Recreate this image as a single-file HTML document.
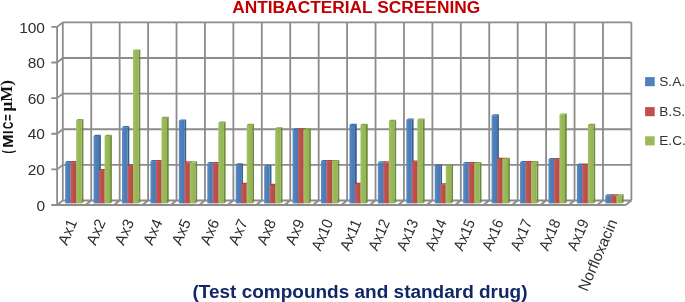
<!DOCTYPE html>
<html><head><meta charset="utf-8">
<style>
html,body{margin:0;padding:0;background:#fff;}
body{width:685px;height:302px;overflow:hidden;position:relative;}
svg{position:absolute;left:0;top:0;filter:blur(0.3px);}
text{font-family:"Liberation Sans",sans-serif;}
.yl{font-size:15.5px;fill:#2e2e2e;}
.xl{font-size:15.3px;fill:#2e2e2e;}
.lg{font-size:13.6px;fill:#333;}
.title{font-size:16px;font-weight:bold;fill:#C00000;}
.xt{font-size:18px;font-weight:bold;fill:#112768;}
.yt{font-size:14.5px;font-weight:bold;fill:#111;}
.yts{font-family:"Liberation Serif",serif;font-size:17px;font-weight:bold;fill:#111;}
</style></head><body>
<svg width="685" height="302" viewBox="0 0 685 302">
<text class="title" x="232.2" y="12.6" textLength="248" lengthAdjust="spacingAndGlyphs">ANTIBACTERIAL SCREENING</text>
<path d="M62.8 200.5H631.4M62.8 164.88H631.4M62.8 129.26H631.4M62.8 93.64H631.4M62.8 58.02H631.4M62.8 22.4H631.4M62.8 22.4V200.5M91.23 22.4V200.5M119.66 22.4V200.5M148.09 22.4V200.5M176.52 22.4V200.5M204.95 22.4V200.5M233.38 22.4V200.5M261.81 22.4V200.5M290.24 22.4V200.5M318.67 22.4V200.5M347.1 22.4V200.5M375.53 22.4V200.5M403.96 22.4V200.5M432.39 22.4V200.5M460.82 22.4V200.5M489.25 22.4V200.5M517.68 22.4V200.5M546.11 22.4V200.5M574.54 22.4V200.5M602.97 22.4V200.5M631.4 22.4V200.5M57.1 26.9V205M57.1 205L62.8 200.5M51.3 205H57.1M57.1 169.38L62.8 164.88M51.3 169.38H57.1M57.1 133.76L62.8 129.26M51.3 133.76H57.1M57.1 98.14L62.8 93.64M51.3 98.14H57.1M57.1 62.52L62.8 58.02M51.3 62.52H57.1M57.1 26.9L62.8 22.4M51.3 26.9H57.1M85.53 205L91.23 200.5M113.96 205L119.66 200.5M142.39 205L148.09 200.5M170.82 205L176.52 200.5M199.25 205L204.95 200.5M227.68 205L233.38 200.5M256.11 205L261.81 200.5M284.54 205L290.24 200.5M312.97 205L318.67 200.5M341.4 205L347.1 200.5M369.83 205L375.53 200.5M398.26 205L403.96 200.5M426.69 205L432.39 200.5M455.12 205L460.82 200.5M483.55 205L489.25 200.5M511.98 205L517.68 200.5M540.41 205L546.11 200.5M568.84 205L574.54 200.5M597.27 205L602.97 200.5M625.7 205L631.4 200.5M57.1 205H625.7" fill="none" stroke="#8c8c8c" stroke-width="1.8"/>
<defs><linearGradient id="g0" x1="0" x2="1" y1="0" y2="0"><stop offset="0" stop-color="#5E8DC6"/><stop offset="0.35" stop-color="#4F81BD"/><stop offset="1" stop-color="#4878B2"/></linearGradient><linearGradient id="g1" x1="0" x2="1" y1="0" y2="0"><stop offset="0" stop-color="#C95F5C"/><stop offset="0.35" stop-color="#C0504D"/><stop offset="1" stop-color="#B44B48"/></linearGradient><linearGradient id="g2" x1="0" x2="1" y1="0" y2="0"><stop offset="0" stop-color="#A5C268"/><stop offset="0.35" stop-color="#9BBB59"/><stop offset="1" stop-color="#92B153"/></linearGradient></defs>
<path d="M70.65 162.17L72.45 160.97V202.2L70.65 203.4Z" fill="#385F8E"/>
<rect x="65.15" y="162.17" width="5.5" height="41.23" fill="url(#g0)"/>
<path d="M65.15 162.17L66.95 160.97H72.45L70.65 162.17Z" fill="#3E6AA3"/>
<path d="M76.15 162.17L77.95 160.97V202.2L76.15 203.4Z" fill="#8E3B38"/>
<rect x="70.65" y="162.17" width="5.5" height="41.23" fill="url(#g1)"/>
<path d="M70.65 162.17L72.45 160.97H77.95L76.15 162.17Z" fill="#A64340"/>
<path d="M81.65 120.14L83.45 118.94V202.2L81.65 203.4Z" fill="#6F8B3B"/>
<rect x="76.15" y="120.14" width="5.5" height="83.26" fill="url(#g2)"/>
<path d="M76.15 120.14L77.95 118.94H83.45L81.65 120.14Z" fill="#84A248"/>
<path d="M99.08 135.99L100.88 134.79V202.2L99.08 203.4Z" fill="#385F8E"/>
<rect x="93.58" y="135.99" width="5.5" height="67.41" fill="url(#g0)"/>
<path d="M93.58 135.99L95.38 134.79H100.88L99.08 135.99Z" fill="#3E6AA3"/>
<path d="M104.58 170.18L106.38 168.98V202.2L104.58 203.4Z" fill="#8E3B38"/>
<rect x="99.08" y="170.18" width="5.5" height="33.22" fill="url(#g1)"/>
<path d="M99.08 170.18L100.88 168.98H106.38L104.58 170.18Z" fill="#A64340"/>
<path d="M110.08 135.99L111.88 134.79V202.2L110.08 203.4Z" fill="#6F8B3B"/>
<rect x="104.58" y="135.99" width="5.5" height="67.41" fill="url(#g2)"/>
<path d="M104.58 135.99L106.38 134.79H111.88L110.08 135.99Z" fill="#84A248"/>
<path d="M127.51 127.26L129.31 126.06V202.2L127.51 203.4Z" fill="#385F8E"/>
<rect x="122.01" y="127.26" width="5.5" height="76.14" fill="url(#g0)"/>
<path d="M122.01 127.26L123.81 126.06H129.31L127.51 127.26Z" fill="#3E6AA3"/>
<path d="M133.01 165.55L134.81 164.35V202.2L133.01 203.4Z" fill="#8E3B38"/>
<rect x="127.51" y="165.55" width="5.5" height="37.85" fill="url(#g1)"/>
<path d="M127.51 165.55L129.31 164.35H134.81L133.01 165.55Z" fill="#A64340"/>
<path d="M138.51 50.68L140.31 49.48V202.2L138.51 203.4Z" fill="#6F8B3B"/>
<rect x="133.01" y="50.68" width="5.5" height="152.72" fill="url(#g2)"/>
<path d="M133.01 50.68L134.81 49.48H140.31L138.51 50.68Z" fill="#84A248"/>
<path d="M155.94 161.1L157.74 159.9V202.2L155.94 203.4Z" fill="#385F8E"/>
<rect x="150.44" y="161.1" width="5.5" height="42.3" fill="url(#g0)"/>
<path d="M150.44 161.1L152.24 159.9H157.74L155.94 161.1Z" fill="#3E6AA3"/>
<path d="M161.44 161.1L163.24 159.9V202.2L161.44 203.4Z" fill="#8E3B38"/>
<rect x="155.94" y="161.1" width="5.5" height="42.3" fill="url(#g1)"/>
<path d="M155.94 161.1L157.74 159.9H163.24L161.44 161.1Z" fill="#A64340"/>
<path d="M166.94 118L168.74 116.8V202.2L166.94 203.4Z" fill="#6F8B3B"/>
<rect x="161.44" y="118" width="5.5" height="85.4" fill="url(#g2)"/>
<path d="M161.44 118L163.24 116.8H168.74L166.94 118Z" fill="#84A248"/>
<path d="M184.37 120.67L186.17 119.47V202.2L184.37 203.4Z" fill="#385F8E"/>
<rect x="178.87" y="120.67" width="5.5" height="82.73" fill="url(#g0)"/>
<path d="M178.87 120.67L180.67 119.47H186.17L184.37 120.67Z" fill="#3E6AA3"/>
<path d="M189.87 162.35L191.67 161.15V202.2L189.87 203.4Z" fill="#8E3B38"/>
<rect x="184.37" y="162.35" width="5.5" height="41.05" fill="url(#g1)"/>
<path d="M184.37 162.35L186.17 161.15H191.67L189.87 162.35Z" fill="#A64340"/>
<path d="M195.37 162.35L197.17 161.15V202.2L195.37 203.4Z" fill="#6F8B3B"/>
<rect x="189.87" y="162.35" width="5.5" height="41.05" fill="url(#g2)"/>
<path d="M189.87 162.35L191.67 161.15H197.17L195.37 162.35Z" fill="#84A248"/>
<path d="M212.8 163.24L214.6 162.04V202.2L212.8 203.4Z" fill="#385F8E"/>
<rect x="207.3" y="163.24" width="5.5" height="40.16" fill="url(#g0)"/>
<path d="M207.3 163.24L209.1 162.04H214.6L212.8 163.24Z" fill="#3E6AA3"/>
<path d="M218.3 163.24L220.1 162.04V202.2L218.3 203.4Z" fill="#8E3B38"/>
<rect x="212.8" y="163.24" width="5.5" height="40.16" fill="url(#g1)"/>
<path d="M212.8 163.24L214.6 162.04H220.1L218.3 163.24Z" fill="#A64340"/>
<path d="M223.8 122.63L225.6 121.43V202.2L223.8 203.4Z" fill="#6F8B3B"/>
<rect x="218.3" y="122.63" width="5.5" height="80.77" fill="url(#g2)"/>
<path d="M218.3 122.63L220.1 121.43H225.6L223.8 122.63Z" fill="#84A248"/>
<path d="M241.23 164.49L243.03 163.29V202.2L241.23 203.4Z" fill="#385F8E"/>
<rect x="235.73" y="164.49" width="5.5" height="38.91" fill="url(#g0)"/>
<path d="M235.73 164.49L237.53 163.29H243.03L241.23 164.49Z" fill="#3E6AA3"/>
<path d="M246.73 183.99L248.53 182.79V202.2L246.73 203.4Z" fill="#8E3B38"/>
<rect x="241.23" y="183.99" width="5.5" height="19.41" fill="url(#g1)"/>
<path d="M241.23 183.99L243.03 182.79H248.53L246.73 183.99Z" fill="#A64340"/>
<path d="M252.23 124.95L254.03 123.75V202.2L252.23 203.4Z" fill="#6F8B3B"/>
<rect x="246.73" y="124.95" width="5.5" height="78.45" fill="url(#g2)"/>
<path d="M246.73 124.95L248.53 123.75H254.03L252.23 124.95Z" fill="#84A248"/>
<path d="M269.66 166.27L271.46 165.07V202.2L269.66 203.4Z" fill="#385F8E"/>
<rect x="264.16" y="166.27" width="5.5" height="37.13" fill="url(#g0)"/>
<path d="M264.16 166.27L265.96 165.07H271.46L269.66 166.27Z" fill="#3E6AA3"/>
<path d="M275.16 184.97L276.96 183.77V202.2L275.16 203.4Z" fill="#8E3B38"/>
<rect x="269.66" y="184.97" width="5.5" height="18.43" fill="url(#g1)"/>
<path d="M269.66 184.97L271.46 183.77H276.96L275.16 184.97Z" fill="#A64340"/>
<path d="M280.66 128.51L282.46 127.31V202.2L280.66 203.4Z" fill="#6F8B3B"/>
<rect x="275.16" y="128.51" width="5.5" height="74.89" fill="url(#g2)"/>
<path d="M275.16 128.51L276.96 127.31H282.46L280.66 128.51Z" fill="#84A248"/>
<path d="M298.09 129.4L299.89 128.2V202.2L298.09 203.4Z" fill="#385F8E"/>
<rect x="292.59" y="129.4" width="5.5" height="74" fill="url(#g0)"/>
<path d="M292.59 129.4L294.39 128.2H299.89L298.09 129.4Z" fill="#3E6AA3"/>
<path d="M303.59 129.4L305.39 128.2V202.2L303.59 203.4Z" fill="#8E3B38"/>
<rect x="298.09" y="129.4" width="5.5" height="74" fill="url(#g1)"/>
<path d="M298.09 129.4L299.89 128.2H305.39L303.59 129.4Z" fill="#A64340"/>
<path d="M309.09 129.4L310.89 128.2V202.2L309.09 203.4Z" fill="#6F8B3B"/>
<rect x="303.59" y="129.4" width="5.5" height="74" fill="url(#g2)"/>
<path d="M303.59 129.4L305.39 128.2H310.89L309.09 129.4Z" fill="#84A248"/>
<path d="M326.52 161.1L328.32 159.9V202.2L326.52 203.4Z" fill="#385F8E"/>
<rect x="321.02" y="161.1" width="5.5" height="42.3" fill="url(#g0)"/>
<path d="M321.02 161.1L322.82 159.9H328.32L326.52 161.1Z" fill="#3E6AA3"/>
<path d="M332.02 161.1L333.82 159.9V202.2L332.02 203.4Z" fill="#8E3B38"/>
<rect x="326.52" y="161.1" width="5.5" height="42.3" fill="url(#g1)"/>
<path d="M326.52 161.1L328.32 159.9H333.82L332.02 161.1Z" fill="#A64340"/>
<path d="M337.52 161.1L339.32 159.9V202.2L337.52 203.4Z" fill="#6F8B3B"/>
<rect x="332.02" y="161.1" width="5.5" height="42.3" fill="url(#g2)"/>
<path d="M332.02 161.1L333.82 159.9H339.32L337.52 161.1Z" fill="#84A248"/>
<path d="M354.95 124.95L356.75 123.75V202.2L354.95 203.4Z" fill="#385F8E"/>
<rect x="349.45" y="124.95" width="5.5" height="78.45" fill="url(#g0)"/>
<path d="M349.45 124.95L351.25 123.75H356.75L354.95 124.95Z" fill="#3E6AA3"/>
<path d="M360.45 183.99L362.25 182.79V202.2L360.45 203.4Z" fill="#8E3B38"/>
<rect x="354.95" y="183.99" width="5.5" height="19.41" fill="url(#g1)"/>
<path d="M354.95 183.99L356.75 182.79H362.25L360.45 183.99Z" fill="#A64340"/>
<path d="M365.95 124.95L367.75 123.75V202.2L365.95 203.4Z" fill="#6F8B3B"/>
<rect x="360.45" y="124.95" width="5.5" height="78.45" fill="url(#g2)"/>
<path d="M360.45 124.95L362.25 123.75H367.75L365.95 124.95Z" fill="#84A248"/>
<path d="M383.38 162.35L385.18 161.15V202.2L383.38 203.4Z" fill="#385F8E"/>
<rect x="377.88" y="162.35" width="5.5" height="41.05" fill="url(#g0)"/>
<path d="M377.88 162.35L379.68 161.15H385.18L383.38 162.35Z" fill="#3E6AA3"/>
<path d="M388.88 162.35L390.68 161.15V202.2L388.88 203.4Z" fill="#8E3B38"/>
<rect x="383.38" y="162.35" width="5.5" height="41.05" fill="url(#g1)"/>
<path d="M383.38 162.35L385.18 161.15H390.68L388.88 162.35Z" fill="#A64340"/>
<path d="M394.38 121.03L396.18 119.83V202.2L394.38 203.4Z" fill="#6F8B3B"/>
<rect x="388.88" y="121.03" width="5.5" height="82.37" fill="url(#g2)"/>
<path d="M388.88 121.03L390.68 119.83H396.18L394.38 121.03Z" fill="#84A248"/>
<path d="M411.81 119.78L413.61 118.58V202.2L411.81 203.4Z" fill="#385F8E"/>
<rect x="406.31" y="119.78" width="5.5" height="83.62" fill="url(#g0)"/>
<path d="M406.31 119.78L408.11 118.58H413.61L411.81 119.78Z" fill="#3E6AA3"/>
<path d="M417.31 161.64L419.11 160.44V202.2L417.31 203.4Z" fill="#8E3B38"/>
<rect x="411.81" y="161.64" width="5.5" height="41.76" fill="url(#g1)"/>
<path d="M411.81 161.64L413.61 160.44H419.11L417.31 161.64Z" fill="#A64340"/>
<path d="M422.81 119.78L424.61 118.58V202.2L422.81 203.4Z" fill="#6F8B3B"/>
<rect x="417.31" y="119.78" width="5.5" height="83.62" fill="url(#g2)"/>
<path d="M417.31 119.78L419.11 118.58H424.61L422.81 119.78Z" fill="#84A248"/>
<path d="M440.24 165.38L442.04 164.18V202.2L440.24 203.4Z" fill="#385F8E"/>
<rect x="434.74" y="165.38" width="5.5" height="38.02" fill="url(#g0)"/>
<path d="M434.74 165.38L436.54 164.18H442.04L440.24 165.38Z" fill="#3E6AA3"/>
<path d="M445.74 184.43L447.54 183.23V202.2L445.74 203.4Z" fill="#8E3B38"/>
<rect x="440.24" y="184.43" width="5.5" height="18.97" fill="url(#g1)"/>
<path d="M440.24 184.43L442.04 183.23H447.54L445.74 184.43Z" fill="#A64340"/>
<path d="M451.24 165.38L453.04 164.18V202.2L451.24 203.4Z" fill="#6F8B3B"/>
<rect x="445.74" y="165.38" width="5.5" height="38.02" fill="url(#g2)"/>
<path d="M445.74 165.38L447.54 164.18H453.04L451.24 165.38Z" fill="#84A248"/>
<path d="M468.67 163.24L470.47 162.04V202.2L468.67 203.4Z" fill="#385F8E"/>
<rect x="463.17" y="163.24" width="5.5" height="40.16" fill="url(#g0)"/>
<path d="M463.17 163.24L464.97 162.04H470.47L468.67 163.24Z" fill="#3E6AA3"/>
<path d="M474.17 163.24L475.97 162.04V202.2L474.17 203.4Z" fill="#8E3B38"/>
<rect x="468.67" y="163.24" width="5.5" height="40.16" fill="url(#g1)"/>
<path d="M468.67 163.24L470.47 162.04H475.97L474.17 163.24Z" fill="#A64340"/>
<path d="M479.67 163.24L481.47 162.04V202.2L479.67 203.4Z" fill="#6F8B3B"/>
<rect x="474.17" y="163.24" width="5.5" height="40.16" fill="url(#g2)"/>
<path d="M474.17 163.24L475.97 162.04H481.47L479.67 163.24Z" fill="#84A248"/>
<path d="M497.1 115.33L498.9 114.13V202.2L497.1 203.4Z" fill="#385F8E"/>
<rect x="491.6" y="115.33" width="5.5" height="88.07" fill="url(#g0)"/>
<path d="M491.6 115.33L493.4 114.13H498.9L497.1 115.33Z" fill="#3E6AA3"/>
<path d="M502.6 158.96L504.4 157.76V202.2L502.6 203.4Z" fill="#8E3B38"/>
<rect x="497.1" y="158.96" width="5.5" height="44.44" fill="url(#g1)"/>
<path d="M497.1 158.96L498.9 157.76H504.4L502.6 158.96Z" fill="#A64340"/>
<path d="M508.1 158.96L509.9 157.76V202.2L508.1 203.4Z" fill="#6F8B3B"/>
<rect x="502.6" y="158.96" width="5.5" height="44.44" fill="url(#g2)"/>
<path d="M502.6 158.96L504.4 157.76H509.9L508.1 158.96Z" fill="#84A248"/>
<path d="M525.53 162.17L527.33 160.97V202.2L525.53 203.4Z" fill="#385F8E"/>
<rect x="520.03" y="162.17" width="5.5" height="41.23" fill="url(#g0)"/>
<path d="M520.03 162.17L521.83 160.97H527.33L525.53 162.17Z" fill="#3E6AA3"/>
<path d="M531.03 162.17L532.83 160.97V202.2L531.03 203.4Z" fill="#8E3B38"/>
<rect x="525.53" y="162.17" width="5.5" height="41.23" fill="url(#g1)"/>
<path d="M525.53 162.17L527.33 160.97H532.83L531.03 162.17Z" fill="#A64340"/>
<path d="M536.53 162.17L538.33 160.97V202.2L536.53 203.4Z" fill="#6F8B3B"/>
<rect x="531.03" y="162.17" width="5.5" height="41.23" fill="url(#g2)"/>
<path d="M531.03 162.17L532.83 160.97H538.33L536.53 162.17Z" fill="#84A248"/>
<path d="M553.96 159.14L555.76 157.94V202.2L553.96 203.4Z" fill="#385F8E"/>
<rect x="548.46" y="159.14" width="5.5" height="44.26" fill="url(#g0)"/>
<path d="M548.46 159.14L550.26 157.94H555.76L553.96 159.14Z" fill="#3E6AA3"/>
<path d="M559.46 159.14L561.26 157.94V202.2L559.46 203.4Z" fill="#8E3B38"/>
<rect x="553.96" y="159.14" width="5.5" height="44.26" fill="url(#g1)"/>
<path d="M553.96 159.14L555.76 157.94H561.26L559.46 159.14Z" fill="#A64340"/>
<path d="M564.96 114.62L566.76 113.42V202.2L564.96 203.4Z" fill="#6F8B3B"/>
<rect x="559.46" y="114.62" width="5.5" height="88.78" fill="url(#g2)"/>
<path d="M559.46 114.62L561.26 113.42H566.76L564.96 114.62Z" fill="#84A248"/>
<path d="M582.39 164.66L584.19 163.46V202.2L582.39 203.4Z" fill="#385F8E"/>
<rect x="576.89" y="164.66" width="5.5" height="38.74" fill="url(#g0)"/>
<path d="M576.89 164.66L578.69 163.46H584.19L582.39 164.66Z" fill="#3E6AA3"/>
<path d="M587.89 164.66L589.69 163.46V202.2L587.89 203.4Z" fill="#8E3B38"/>
<rect x="582.39" y="164.66" width="5.5" height="38.74" fill="url(#g1)"/>
<path d="M582.39 164.66L584.19 163.46H589.69L587.89 164.66Z" fill="#A64340"/>
<path d="M593.39 124.95L595.19 123.75V202.2L593.39 203.4Z" fill="#6F8B3B"/>
<rect x="587.89" y="124.95" width="5.5" height="78.45" fill="url(#g2)"/>
<path d="M587.89 124.95L589.69 123.75H595.19L593.39 124.95Z" fill="#84A248"/>
<path d="M610.82 195.47L612.62 194.27V202.2L610.82 203.4Z" fill="#385F8E"/>
<rect x="605.32" y="195.47" width="5.5" height="7.93" fill="url(#g0)"/>
<path d="M605.32 195.47L607.12 194.27H612.62L610.82 195.47Z" fill="#3E6AA3"/>
<path d="M616.32 195.47L618.12 194.27V202.2L616.32 203.4Z" fill="#8E3B38"/>
<rect x="610.82" y="195.47" width="5.5" height="7.93" fill="url(#g1)"/>
<path d="M610.82 195.47L612.62 194.27H618.12L616.32 195.47Z" fill="#A64340"/>
<path d="M621.82 195.47L623.62 194.27V202.2L621.82 203.4Z" fill="#6F8B3B"/>
<rect x="616.32" y="195.47" width="5.5" height="7.93" fill="url(#g2)"/>
<path d="M616.32 195.47L618.12 194.27H623.62L621.82 195.47Z" fill="#84A248"/>
<text x="45" y="210.6" class="yl" text-anchor="end">0</text>
<text x="45" y="174.98" class="yl" text-anchor="end">20</text>
<text x="45" y="139.36" class="yl" text-anchor="end">40</text>
<text x="45" y="103.74" class="yl" text-anchor="end">60</text>
<text x="45" y="68.12" class="yl" text-anchor="end">80</text>
<text x="45" y="32.5" class="yl" text-anchor="end">100</text>
<text class="xl" text-anchor="end" transform="translate(77.5 222) rotate(-66.5)">Ax1</text>
<text class="xl" text-anchor="end" transform="translate(105.93 222) rotate(-66.5)">Ax2</text>
<text class="xl" text-anchor="end" transform="translate(134.36 222) rotate(-66.5)">Ax3</text>
<text class="xl" text-anchor="end" transform="translate(162.79 222) rotate(-66.5)">Ax4</text>
<text class="xl" text-anchor="end" transform="translate(191.22 222) rotate(-66.5)">Ax5</text>
<text class="xl" text-anchor="end" transform="translate(219.65 222) rotate(-66.5)">Ax6</text>
<text class="xl" text-anchor="end" transform="translate(248.08 222) rotate(-66.5)">Ax7</text>
<text class="xl" text-anchor="end" transform="translate(276.51 222) rotate(-66.5)">Ax8</text>
<text class="xl" text-anchor="end" transform="translate(304.94 222) rotate(-66.5)">Ax9</text>
<text class="xl" text-anchor="end" textLength="32.4" lengthAdjust="spacingAndGlyphs" transform="translate(333.37 222) rotate(-66.5)">Ax10</text>
<text class="xl" text-anchor="end" textLength="32.4" lengthAdjust="spacingAndGlyphs" transform="translate(361.8 222) rotate(-66.5)">Ax11</text>
<text class="xl" text-anchor="end" textLength="32.4" lengthAdjust="spacingAndGlyphs" transform="translate(390.23 222) rotate(-66.5)">Ax12</text>
<text class="xl" text-anchor="end" textLength="32.4" lengthAdjust="spacingAndGlyphs" transform="translate(418.66 222) rotate(-66.5)">Ax13</text>
<text class="xl" text-anchor="end" textLength="32.4" lengthAdjust="spacingAndGlyphs" transform="translate(447.09 222) rotate(-66.5)">Ax14</text>
<text class="xl" text-anchor="end" textLength="32.4" lengthAdjust="spacingAndGlyphs" transform="translate(475.52 222) rotate(-66.5)">Ax15</text>
<text class="xl" text-anchor="end" textLength="32.4" lengthAdjust="spacingAndGlyphs" transform="translate(503.95 222) rotate(-66.5)">Ax16</text>
<text class="xl" text-anchor="end" textLength="32.4" lengthAdjust="spacingAndGlyphs" transform="translate(532.38 222) rotate(-66.5)">Ax17</text>
<text class="xl" text-anchor="end" textLength="32.4" lengthAdjust="spacingAndGlyphs" transform="translate(560.81 222) rotate(-66.5)">Ax18</text>
<text class="xl" text-anchor="end" textLength="32.4" lengthAdjust="spacingAndGlyphs" transform="translate(589.24 222) rotate(-66.5)">Ax19</text>
<text class="xl" text-anchor="end" transform="translate(617.67 222) rotate(-66.5)">Norfloxacin</text>
<text class="yt" transform="translate(12.5 153.39) rotate(-90) scale(0.684 1)">(</text>
<text class="yt" transform="translate(12.5 147.86) rotate(-90) scale(1.095 1)">M</text>
<text class="yt" transform="translate(12.5 133.94) rotate(-90) scale(0.862 1)">I</text>
<text class="yt" transform="translate(12.5 129.01) rotate(-90) scale(0.696 1)">C</text>
<text class="yt" transform="translate(12.5 120.88) rotate(-90) scale(0.798 1)">=</text>
<text class="yts" transform="translate(12.4 111.6) rotate(-90)">&#181;M)</text>
<rect x="645.1" y="77.1" width="9.6" height="9.1" fill="#4F81BD"/>
<rect x="645.1" y="107.1" width="9.6" height="9.1" fill="#C0504D"/>
<rect x="645.1" y="136.3" width="9.6" height="9.1" fill="#9BBB59"/>
<text class="lg" x="659.3" y="86.3">S.A.</text>
<text class="lg" x="659.3" y="116.2">B.S.</text>
<text class="lg" x="659.3" y="145.4">E.C.</text>
<text class="xt" x="192.5" y="298" textLength="335" lengthAdjust="spacingAndGlyphs">(Test compounds and standard drug)</text>
</svg>
</body></html>
